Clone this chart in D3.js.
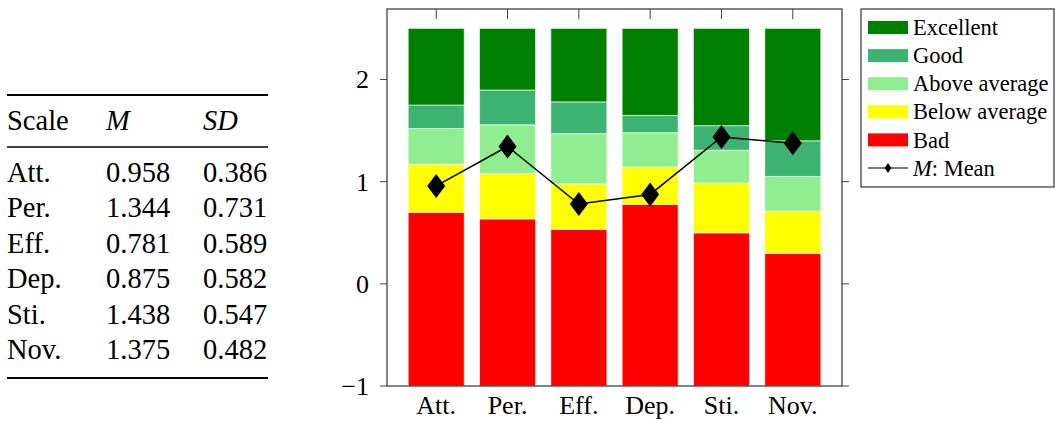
<!DOCTYPE html>
<html>
<head>
<meta charset="utf-8">
<script src="https://cdn.jsdelivr.net/npm/d3@7"></script>
<style>
  html, body { margin: 0; padding: 0; background: #fff; }
  svg { display: block; font-family: "Liberation Serif", "DejaVu Serif", serif; }
</style>
</head>
<body>
<svg id="chart" width="1055" height="421"></svg>
<script>
// ---- data ----
const categories = ["Att.", "Per.", "Eff.", "Dep.", "Sti.", "Nov."];
const levelNames = ["Bad", "Below average", "Above average", "Good", "Excellent"];
const bad          = [1.700, 1.635, 1.534, 1.777, 1.499, 1.298];
const belowAverage = [0.470, 0.443, 0.444, 0.366, 0.488, 0.413];
const aboveAverage = [0.350, 0.479, 0.492, 0.337, 0.321, 0.340];
const good         = [0.230, 0.340, 0.311, 0.168, 0.240, 0.349];
const excellent    = [0.750, 0.603, 0.719, 0.852, 0.952, 1.100];
const means = [0.958, 1.344, 0.781, 0.875, 1.438, 1.375];
const sds   = [0.386, 0.731, 0.589, 0.582, 0.547, 0.482];
const yTicks = [-1, 0, 1, 2];
const baseValue = -1;
const legendOrder = ["Excellent", "Good", "Above average", "Below average", "Bad"];

const colors = {
  "Excellent": "#008000",
  "Good": "#3cb371",
  "Above average": "#90ee90",
  "Below average": "#ffff00",
  "Bad": "#ff0000"
};

const series = [bad, belowAverage, aboveAverage, good, excellent];

const svg = d3.select("#chart");

// ---- table ----
const tbl = svg.append("g");
const colX = [7, 106, 203];
const ruleX0 = 7, ruleX1 = 268;
const tFont = 28.5;
tbl.append("line").attr("x1", ruleX0).attr("x2", ruleX1).attr("y1", 95).attr("y2", 95)
  .attr("stroke", "#000").attr("stroke-width", 2);
tbl.append("line").attr("x1", ruleX0).attr("x2", ruleX1).attr("y1", 147).attr("y2", 147)
  .attr("stroke", "#000").attr("stroke-width", 1.3);
tbl.append("line").attr("x1", ruleX0).attr("x2", ruleX1).attr("y1", 378).attr("y2", 378)
  .attr("stroke", "#000").attr("stroke-width", 2);
const headers = [{t: "Scale", it: false}, {t: "M", it: true}, {t: "SD", it: true}];
headers.forEach((h, i) => {
  tbl.append("text").attr("x", colX[i]).attr("y", 130)
    .attr("font-size", tFont).attr("font-style", h.it ? "italic" : "normal")
    .text(h.t);
});
const rowY = d3.scaleLinear().domain([0, 5]).range([182, 359]);
categories.forEach((c, i) => {
  const yy = rowY(i);
  tbl.append("text").attr("x", colX[0]).attr("y", yy).attr("font-size", tFont).text(c);
  tbl.append("text").attr("x", colX[1]).attr("y", yy).attr("font-size", tFont).text(d3.format(".3f")(means[i]));
  tbl.append("text").attr("x", colX[2]).attr("y", yy).attr("font-size", tFont).text(d3.format(".3f")(sds[i]));
});

// ---- chart ----
const pLeft = 387, pRight = 842, pTop = 9, pBottom = 386;
const x = d3.scalePoint().domain(categories).range([pLeft, pRight]).padding(0.69);
const y = d3.scaleLinear().domain([-1, 2.69]).range([pBottom, pTop]);
const barW = 56;

const g = svg.append("g");

// top x ticks (inward)
g.selectAll(".xt").data(categories).join("line")
  .attr("x1", d => x(d)).attr("x2", d => x(d))
  .attr("y1", pTop).attr("y2", pTop + 10)
  .attr("stroke", "#444").attr("stroke-width", 1);

// stacked bars
const stacked = [];
categories.forEach((c, i) => {
  let acc = baseValue;
  series.forEach((s, k) => {
    stacked.push({cat: c, level: levelNames[k], y0: acc, y1: acc + s[i]});
    acc += s[i];
  });
});
g.selectAll(".bar").data(stacked).join("rect")
  .attr("x", d => x(d.cat) - barW / 2)
  .attr("width", barW)
  .attr("y", d => y(d.y1))
  .attr("height", d => y(d.y0) - y(d.y1))
  .attr("fill", d => colors[d.level])
  .attr("stroke", "#ffffff").attr("stroke-opacity", 0.6).attr("stroke-width", 1);

// frame
g.append("rect").attr("x", pLeft).attr("y", pTop).attr("width", pRight - pLeft).attr("height", pBottom - pTop)
  .attr("fill", "none").attr("stroke", "#333").attr("stroke-width", 1.2);

// y ticks outward both sides
yTicks.forEach(t => {
  g.append("line").attr("x1", pLeft - 7).attr("x2", pLeft).attr("y1", y(t)).attr("y2", y(t))
    .attr("stroke", "#444").attr("stroke-width", 1);
  g.append("line").attr("x1", pRight).attr("x2", pRight + 7).attr("y1", y(t)).attr("y2", y(t))
    .attr("stroke", "#444").attr("stroke-width", 1);
  g.append("text").attr("x", 369).attr("y", y(t)).attr("dy", "0.34em")
    .attr("text-anchor", "end").attr("font-size", 26)
    .text(t < 0 ? "\u2212" + Math.abs(t) : String(t));
});

// x tick labels
categories.forEach(c => {
  g.append("text").attr("x", x(c)).attr("y", 414).attr("text-anchor", "middle")
    .attr("font-size", 26).text(c);
});

// mean line
const line = d3.line().x((d, i) => x(categories[i])).y(d => y(d));
g.append("path").datum(means).attr("d", line)
  .attr("fill", "none").attr("stroke", "#000").attr("stroke-width", 1.5);
const diamond = (cx, cy, hw, hh) => `M${cx},${cy - hh}L${cx + hw},${cy}L${cx},${cy + hh}L${cx - hw},${cy}Z`;
g.selectAll(".mk").data(means).join("path")
  .attr("d", (d, i) => diamond(x(categories[i]), y(d), 9, 12))
  .attr("fill", "#000");

// ---- legend ----
const lg = svg.append("g");
lg.append("rect").attr("x", 861).attr("y", 9).attr("width", 193).attr("height", 178)
  .attr("fill", "#fff").attr("stroke", "#333").attr("stroke-width", 1.2);
const rowCY = d3.scaleLinear().domain([0, 5]).range([27.5, 168]);
legendOrder.forEach((name, i) => {
  const cy = rowCY(i);
  lg.append("rect").attr("x", 868).attr("y", cy - 6.5).attr("width", 40).attr("height", 13)
    .attr("fill", colors[name]);
  lg.append("text").attr("x", 913).attr("y", cy).attr("dy", "0.34em")
    .attr("font-size", 22.5).text(name);
});
{
  const cy = rowCY(5);
  lg.append("line").attr("x1", 868).attr("x2", 908).attr("y1", cy).attr("y2", cy)
    .attr("stroke", "#000").attr("stroke-width", 1.2);
  lg.append("path").attr("d", diamond(888, cy, 3.5, 5)).attr("fill", "#000");
  const t = lg.append("text").attr("x", 913).attr("y", cy).attr("dy", "0.34em").attr("font-size", 22.5);
  t.append("tspan").attr("font-style", "italic").text("M");
  t.append("tspan").text(": Mean");
}
</script>
</body>
</html>
